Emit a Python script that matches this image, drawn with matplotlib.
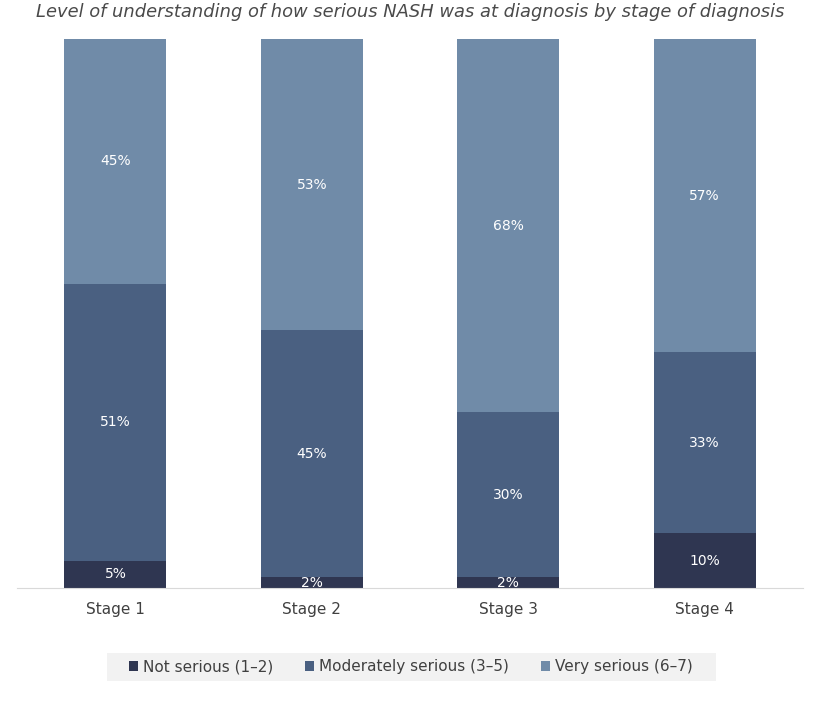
import matplotlib.pyplot as plt
from matplotlib.patches import Rectangle
import numpy as np

stages = ['Stage 1', 'Stage 2', 'Stage 3', 'Stage 4']
not_serious = [5, 2, 2, 10]
moderately = [51, 45, 30, 33]
very = [45, 53, 68, 57]

series = [not_serious, moderately, very]
names = ['Not serious (1–2)', 'Moderately serious (3–5)', 'Very serious (6–7)']
colors = ['#2f3651', '#4a6081', '#708ba8']

fig = plt.figure(figsize=(8.2, 7.11), dpi=100)
ax = fig.add_axes([0.021, 0.173, 0.958, 0.772])

x = np.arange(len(stages))
totals = np.sum(series, axis=0)
bottom = np.zeros(len(stages))
for vals, name, col in zip(series, names, colors):
    share = np.array(vals) / totals
    ax.bar(x, share, 0.52, bottom=bottom, color=col, label=name)
    for xi, b, s, v in zip(x, bottom, share, vals):
        ax.text(xi, b + s / 2, f'{v}%', ha='center', va='center',
                color='white', fontsize=10)
    bottom += share

ax.set_xlim(-0.5, len(stages) - 0.5)
ax.set_ylim(0, 1)
ax.set_yticks([])
ax.set_xticks(x)
ax.set_xticklabels(stages, fontsize=11, color='#404040')
ax.tick_params(axis='x', length=0, pad=10)
for s in ['top', 'right', 'left']:
    ax.spines[s].set_visible(False)
ax.spines['bottom'].set_color('#d9d9d9')

fig.text(0.5, 0.983, 'Level of understanding of how serious NASH was at diagnosis by stage of diagnosis',
         ha='center', va='center', style='italic', fontsize=12.9, color='#4a4a4a')

# grey band behind the legend
fig.patches.append(Rectangle((107 / 820, 1 - 681 / 711), 609 / 820, 28 / 711,
                             transform=fig.transFigure, facecolor='#f2f2f2',
                             edgecolor='none', zorder=0))
leg = fig.legend(loc='center', bbox_to_anchor=(0.501, 0.062), ncol=3, frameon=False,
                 fontsize=11, handlelength=0.6, handleheight=0.6, handletextpad=0.3,
                 columnspacing=2.1, borderpad=0, borderaxespad=0)
for t in leg.get_texts():
    t.set_color('#404040')

fig.savefig('out.png', dpi=100)
